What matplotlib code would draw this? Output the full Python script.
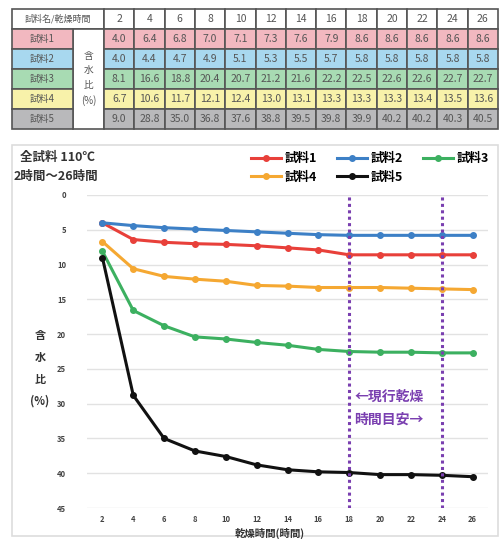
import matplotlib
matplotlib.use("Agg")
import matplotlib.pyplot as plt
from matplotlib.patches import Rectangle
import numpy as np

plt.rcParams['font.family'] = ['Noto Sans CJK JP', 'DejaVu Sans']

hours = [2, 4, 6, 8, 10, 12, 14, 16, 18, 20, 22, 24, 26]
names = ['試料1', '試料2', '試料3', '試料4', '試料5']
s1 = [4.0, 6.4, 6.8, 7.0, 7.1, 7.3, 7.6, 7.9, 8.6, 8.6, 8.6, 8.6, 8.6]
s2 = [4.0, 4.4, 4.7, 4.9, 5.1, 5.3, 5.5, 5.7, 5.8, 5.8, 5.8, 5.8, 5.8]
s3 = [8.1, 16.6, 18.8, 20.4, 20.7, 21.2, 21.6, 22.2, 22.5, 22.6, 22.6, 22.7, 22.7]
s4 = [6.7, 10.6, 11.7, 12.1, 12.4, 13.0, 13.1, 13.3, 13.3, 13.3, 13.4, 13.5, 13.6]
s5 = [9.0, 28.8, 35.0, 36.8, 37.6, 38.8, 39.5, 39.8, 39.9, 40.2, 40.2, 40.3, 40.5]
series = [s1, s2, s3, s4, s5]
guide_hours = [18, 24]

line_colors = ['#e8403a', '#3d80c6', '#3cb060', '#f5a832', '#111111']
row_colors = ['#f2b8c0', '#a8d8ef', '#a8dbb3', '#f8f2aa', '#b9b9bb']
purple = '#7a3fb0'

fig = plt.figure(figsize=(5.04, 5.39), dpi=100)

# background axes in pixel coordinates for table + frame
bg = fig.add_axes([0, 0, 1, 1], zorder=0)
bg.set_xlim(0, 504)
bg.set_ylim(539, 0)
bg.axis('off')

edge = '#555555'
txt = '#555555'
col_w = (498 - 104) / len(hours)
row_y = [9, 28.5, 48.5, 68.5, 88.5, 108.5, 128.5]

# header row
bg.add_patch(Rectangle((12, row_y[0]), 92, row_y[1] - row_y[0], fc='white', ec=edge, lw=1.2))
bg.text(58, (row_y[0] + row_y[1]) / 2, '試料名/乾燥時間', ha='center', va='center',
        fontsize=6.5, color=txt)
for j, h in enumerate(hours):
    x0 = 104 + j * col_w
    bg.add_patch(Rectangle((x0, row_y[0]), col_w, row_y[1] - row_y[0], fc='white', ec=edge, lw=1.2))
    bg.text(x0 + col_w / 2, (row_y[0] + row_y[1]) / 2, str(h), ha='center', va='center',
            fontsize=7.5, color=txt)

# merged unit column
bg.add_patch(Rectangle((73, row_y[1]), 31, row_y[6] - row_y[1], fc='white', ec=edge, lw=1.2))
bg.text(88.5, (row_y[1] + row_y[6]) / 2, '含\n水\n比\n(%)', ha='center', va='center',
        fontsize=7, color=txt, linespacing=1.6)

for i, (name, vals) in enumerate(zip(names, series)):
    y0, y1 = row_y[i + 1], row_y[i + 2]
    bg.add_patch(Rectangle((12, y0), 61, y1 - y0, fc=row_colors[i], ec=edge, lw=1.2))
    bg.text(42.5, (y0 + y1) / 2, name, ha='center', va='center', fontsize=7, color=txt)
    for j, v in enumerate(vals):
        x0 = 104 + j * col_w
        bg.add_patch(Rectangle((x0, y0), col_w, y1 - y0, fc=row_colors[i], ec=edge, lw=1.2))
        bg.text(x0 + col_w / 2, (y0 + y1) / 2, f'{v:.1f}', ha='center', va='center',
                fontsize=7.5, color=txt)

# chart frame
bg.add_patch(Rectangle((12, 145), 486, 391, fc='white', ec='#dddddd', lw=1.2))

bg.text(20, 157, '全試料 110℃', ha='left', va='center', fontsize=9,
        fontweight='bold', color='#333333')
bg.text(14, 176, '2時間～26時間', ha='left', va='center', fontsize=9,
        fontweight='bold', color='#333333')
bg.text(40, 368, '含\n水\n比\n(%)', ha='center', va='center', fontsize=8,
        fontweight='bold', color='#333333', linespacing=1.9)
bg.text(270, 533, '乾燥時間(時間)', ha='center', va='center', fontsize=7.5,
        fontweight='bold', color='#333333')

# main chart
ax = fig.add_axes([87 / 504, 31 / 539, 401 / 504, 313 / 539], zorder=1)
ax.patch.set_alpha(0)
handles = []
for name, vals, c in zip(names, series, line_colors):
    h, = ax.plot(hours, vals, color=c, lw=2.2, marker='o', ms=4, label=name, zorder=3)
    handles.append(h)

for g in guide_hours:
    ax.axvline(g, color=purple, ls=(0, (1, 1.1)), lw=2.2, zorder=4)

ax.text(18.35, 29.0, '←現行乾燥', ha='left', va='center', fontsize=10,
        fontweight='bold', color=purple)
ax.text(18.35, 32.3, '時間目安→', ha='left', va='center', fontsize=10,
        fontweight='bold', color=purple)

ax.set_xlim(1, 27)
ax.set_ylim(45, 0)
ax.set_xticks(hours)
ax.set_yticks(np.arange(0, 46, 5))
ax.grid(axis='y', color='#e2e2e2', lw=1)
ax.set_axisbelow(True)
for sp in ax.spines.values():
    sp.set_visible(False)
ax.tick_params(length=0, labelsize=5.5, labelcolor='#444444')
ax.tick_params(axis='y', pad=15)
ax.tick_params(axis='x', pad=5)
for lab in ax.get_xticklabels() + ax.get_yticklabels():
    lab.set_fontweight('bold')

order = [0, 3, 1, 4, 2]
fig.legend([handles[k] for k in order], [names[k] for k in order], ncol=3,
           loc='upper right', bbox_to_anchor=(494 / 504, 1 - 147 / 539), frameon=False,
           prop={'size': 9, 'weight': 'bold'}, handlelength=2.4, handletextpad=0.3,
           columnspacing=1.6, labelspacing=0.45, borderaxespad=0)

fig.savefig('out.png', dpi=100)
